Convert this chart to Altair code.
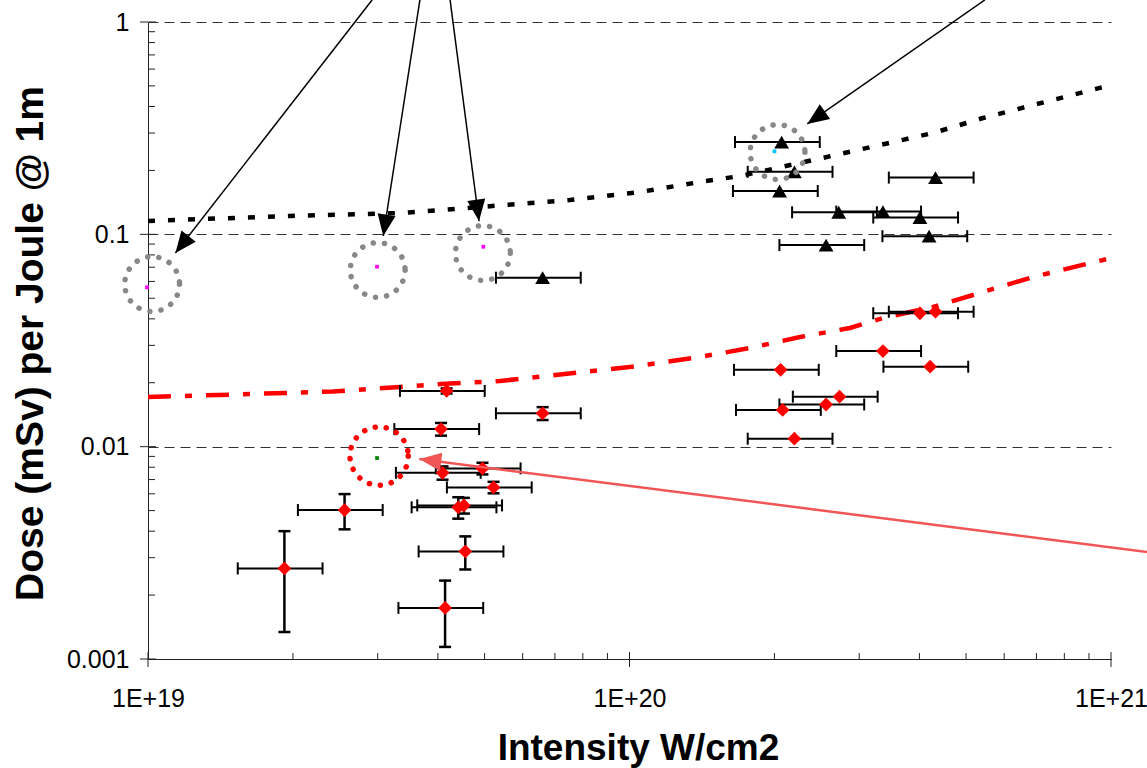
import math
import altair as alt
import pandas as pd

FONT = "Liberation Sans"
W, H = 963, 637
X_DOMAIN = [1e19, 1e21]
Y_DOMAIN = [0.001, 1]
X_REL_ERR = 0.20  # horizontal error bars are +/-20 % of the intensity

# Black triangles (upper dose series)
tri_x = [2.07e20, 2.20e20, 2.05e20, 2.72e20, 3.36e20, 4.01e20, 4.32e20, 4.19e20, 2.56e20, 6.60e19]
tri_y = [0.272, 0.197, 0.160, 0.127, 0.128, 0.120, 0.185, 0.098, 0.089, 0.0625]

# Red diamonds (lower dose series) and their vertical errors (0 = none drawn)
dia_x = [4.01e20, 4.32e20, 3.36e20, 4.21e20, 2.06e20, 2.73e20, 2.56e20, 2.08e20, 2.20e20,
         4.17e19, 6.60e19, 4.06e19, 4.95e19, 4.09e19, 5.22e19, 2.56e19, 4.41e19, 4.53e19,
         4.56e19, 1.92e19, 4.14e19]
dia_y = [0.0425, 0.0432, 0.0282, 0.0238, 0.0230, 0.0172, 0.0158, 0.0149, 0.0109,
         0.0183, 0.01435, 0.0121, 0.0079, 0.00753, 0.00643, 0.00503, 0.00518, 0.00529,
         0.00321, 0.00267, 0.00174]
dia_yerr = [0, 0, 0, 0, 0, 0, 0, 0, 0,
            0.0005, 0.0010, 0.00083, 0.0005, 0.00054, 0.0004, 0.00095, 0.0006, 0.00045,
            0.00057, 0.00133, 0.0006]

# Fitted trend curves
fit_black_x = [1e19, 1.97e19, 3.34e19, 4.89e19, 7.52e19, 1.05e20, 1.40e20, 1.70e20,
               2.41e20, 3.31e20, 4.27e20, 5.42e20, 6.89e20, 1e21]
fit_black_y = [0.1156, 0.1220, 0.1260, 0.1345, 0.1451, 0.1582, 0.1764, 0.1883,
               0.2239, 0.2634, 0.3001, 0.3530, 0.4064, 0.5049]
fit_red_x = [1e19, 1.63e19, 2.42e19, 3.34e19, 4.24e19, 5.38e19, 8.01e19, 1.0e20, 1.40e20,
             1.78e20, 2.26e20, 2.87e20, 3.36e20, 4.27e20, 5.42e20, 6.89e20, 1e21]
fit_red_y = [0.01714, 0.0177, 0.01819, 0.0191, 0.01984, 0.02038, 0.02247, 0.02372, 0.02645,
             0.02915, 0.03284, 0.03621, 0.04036, 0.04547, 0.05351, 0.06295, 0.07736]

# Highlighted measurements: dotted rings and their centre points
ring_x = [1.02e19, 3.00e19, 4.96e19, 2.03e20]
ring_y = [0.0583, 0.0679, 0.0816, 0.244]
ring_red_x = [3.02e19]
ring_red_y = [0.00903]
dot_x = [0.995e19, 2.99e19, 4.97e19, 2.00e20, 2.99e19]
dot_y = [0.0563, 0.0704, 0.0874, 0.246, 0.00884]
dot_color = ["#FF00FF", "#FF00FF", "#FF00FF", "#00C8FF", "#008000"]

# Annotation arrows (tail -> tip)
arrow_x0 = [2.92e19, 3.67e19, 4.24e19, 5.47e20]
arrow_y0 = [1.27, 1.27, 1.27, 1.27]
arrow_x1 = [1.14e19, 3.08e19, 4.87e19, 2.34e20]
arrow_y1 = [0.0816, 0.0982, 0.1155, 0.331]
red_arrow_x0 = [1.19e21]
red_arrow_y0 = [0.00319]
red_arrow_x1 = [3.66e19]
red_arrow_y1 = [0.00874]

# Axis tick positions
x_major = [1e19, 1e20, 1e21]
x_minor = [m * 10 ** e for e in (19, 20) for m in range(2, 10)]
y_major = [0.001, 0.01, 0.1, 1]
y_minor = [m * 10.0 ** e for e in (-3, -2, -1) for m in range(2, 10)]

xs = alt.Scale(type="log", domain=X_DOMAIN, nice=False)
ys = alt.Scale(type="log", domain=Y_DOMAIN, nice=False)

x_axis = alt.Axis(
    values=x_major, labelExpr="'1E+' + round(log(datum.value) / LN10)",
    labelFlush=False, labelOverlap=False, labelFont=FONT, labelFontSize=25,
    labelColor="black", labelPadding=27, ticks=False, tickSize=0,
    domainColor="#222", domainWidth=1, grid=False,
    title="Intensity W/cm2", titleFont=FONT, titleFontSize=37, titleFontWeight="bold",
    titleColor="black", titleX=490, titleY=100, titleBaseline="alphabetic", titleAlign="center",
)
y_axis = alt.Axis(
    values=y_major, format="~g", labelOverlap=False, labelFont=FONT, labelFontSize=25,
    labelColor="black", labelPadding=19, ticks=False, tickSize=0,
    domainColor="#222", domainWidth=1,
    grid=True, gridDash=[10, 6], gridColor="#333", gridWidth=1,
    title="Dose (mSv)  per Joule @ 1m", titleFont=FONT, titleFontSize=39, titleFontWeight="bold",
    titleColor="black", titleX=-106, titleY=321, titleAngle=270,
    titleBaseline="alphabetic", titleAlign="center",
)


def X(field="x"):
    return alt.X(f"{field}:Q", scale=xs, axis=x_axis)


def Y(field="y"):
    return alt.Y(f"{field}:Q", scale=ys, axis=y_axis)


def head_angle(x0, y0, x1, y1):
    px_per_dec_x = W / (math.log10(X_DOMAIN[1]) - math.log10(X_DOMAIN[0]))
    px_per_dec_y = H / (math.log10(Y_DOMAIN[1]) - math.log10(Y_DOMAIN[0]))
    dx = (math.log10(x1) - math.log10(x0)) * px_per_dec_x
    dy = -(math.log10(y1) - math.log10(y0)) * px_per_dec_y
    return math.degrees(math.atan2(dx, -dy)) % 360


fit_black = pd.DataFrame({"x": fit_black_x, "y": fit_black_y})
fit_red = pd.DataFrame({"x": fit_red_x, "y": fit_red_y})

layers = []

layers.append(
    alt.Chart(fit_black).mark_line(color="black", strokeWidth=4.5, strokeDash=[7, 13]).encode(
        x=X(), y=Y())
)
layers.append(
    alt.Chart(fit_red).mark_line(color="#FF0000", strokeWidth=4.5, strokeDash=[23, 14, 7, 14]).encode(
        x=X(), y=Y())
)

# Axis tick marks (minor ticks point inward, major ticks cross the axis)
layers.append(alt.Chart(pd.DataFrame({"x": x_minor})).mark_rule(color="#222", strokeWidth=1).encode(
    x=X(), y=alt.value(H - 6), y2=alt.value(H)))
layers.append(alt.Chart(pd.DataFrame({"x": x_major})).mark_rule(color="#222", strokeWidth=1).encode(
    x=X(), y=alt.value(H - 7), y2=alt.value(H + 8)))
layers.append(alt.Chart(pd.DataFrame({"y": y_minor})).mark_rule(color="#222", strokeWidth=1).encode(
    y=Y(), x=alt.value(0), x2=alt.value(7)))
layers.append(alt.Chart(pd.DataFrame({"y": y_major})).mark_rule(color="#222", strokeWidth=1).encode(
    y=Y(), x=alt.value(-8), x2=alt.value(8)))

# Error bars
pts = pd.concat([
    pd.DataFrame({"x": tri_x, "y": tri_y, "yerr": 0.0}),
    pd.DataFrame({"x": dia_x, "y": dia_y, "yerr": dia_yerr}),
], ignore_index=True)
pts["xlo"] = pts["x"] * (1 - X_REL_ERR)
pts["xhi"] = pts["x"] * (1 + X_REL_ERR)
caps_x = pd.concat([
    pd.DataFrame({"x": pts["xlo"], "y": pts["y"]}),
    pd.DataFrame({"x": pts["xhi"], "y": pts["y"]}),
], ignore_index=True)
vpts = pts[pts["yerr"] > 0].copy()
vpts["ylo"] = vpts["y"] - vpts["yerr"]
vpts["yhi"] = vpts["y"] + vpts["yerr"]
caps_y = pd.concat([
    pd.DataFrame({"x": vpts["x"], "y": vpts["ylo"]}),
    pd.DataFrame({"x": vpts["x"], "y": vpts["yhi"]}),
], ignore_index=True)

layers.append(alt.Chart(pts).mark_rule(color="black", strokeWidth=2).encode(
    x=X("xlo"), x2="xhi:Q", y=Y()))
layers.append(alt.Chart(caps_x).mark_tick(color="black", orient="vertical", size=12, thickness=2, opacity=1).encode(
    x=X(), y=Y()))
layers.append(alt.Chart(vpts).mark_rule(color="black", strokeWidth=2.5).encode(
    x=X(), y=Y("ylo"), y2="yhi:Q"))
layers.append(alt.Chart(caps_y).mark_tick(color="black", orient="horizontal", size=12, thickness=2.5, opacity=1).encode(
    x=X(), y=Y()))

# Markers
layers.append(alt.Chart(pd.DataFrame({"x": tri_x, "y": tri_y})).mark_point(
    shape="triangle-up", filled=True, size=220, color="black", opacity=1, strokeWidth=0).encode(x=X(), y=Y()))
layers.append(alt.Chart(pd.DataFrame({"x": dia_x, "y": dia_y})).mark_point(
    shape="diamond", filled=True, size=190, color="#FF0000", opacity=1, strokeWidth=0).encode(x=X(), y=Y()))

# Dotted rings around highlighted measurements
layers.append(alt.Chart(pd.DataFrame({"x": ring_x, "y": ring_y})).mark_point(
    shape="circle", filled=False, size=3000, color="#888888", opacity=1,
    strokeWidth=5.5, strokeDash=[0.1, 11.2], strokeCap="round").encode(x=X(), y=Y()))
layers.append(alt.Chart(pd.DataFrame({"x": ring_red_x, "y": ring_red_y})).mark_point(
    shape="circle", filled=False, size=3400, color="#FF0000", opacity=1,
    strokeWidth=5.5, strokeDash=[0.1, 11], strokeCap="round").encode(x=X(), y=Y()))
layers.append(alt.Chart(pd.DataFrame({"x": dot_x, "y": dot_y, "c": dot_color})).mark_point(
    shape="square", filled=True, size=14, opacity=1, strokeWidth=0).encode(
    x=X(), y=Y(), color=alt.Color("c:N", scale=None)))

# Arrows
arrows = pd.DataFrame({"x0": arrow_x0, "y0": arrow_y0, "x1": arrow_x1, "y1": arrow_y1})
arrows["ang"] = [head_angle(*r) for r in zip(arrow_x0, arrow_y0, arrow_x1, arrow_y1)]
red_arrows = pd.DataFrame({"x0": red_arrow_x0, "y0": red_arrow_y0, "x1": red_arrow_x1, "y1": red_arrow_y1})
red_arrows["ang"] = [head_angle(*r) for r in zip(red_arrow_x0, red_arrow_y0, red_arrow_x1, red_arrow_y1)]

HEAD = "M0,0L-0.42,1L0.42,1Z"

layers.append(alt.Chart(arrows).mark_rule(color="black", strokeWidth=1.5).encode(
    x=X("x0"), y=Y("y0"), x2="x1:Q", y2="y1:Q"))
layers.append(alt.Chart(arrows).mark_point(
    shape=HEAD, filled=True, size=1850, color="black", opacity=1, strokeWidth=0).encode(
    x=X("x1"), y=Y("y1"), angle=alt.Angle("ang:Q", scale=None)))
layers.append(alt.Chart(red_arrows).mark_rule(color="#F25555", strokeWidth=2.5).encode(
    x=X("x0"), y=Y("y0"), x2="x1:Q", y2="y1:Q"))
layers.append(alt.Chart(red_arrows).mark_point(
    shape=HEAD, filled=True, size=1936, color="#F25555", opacity=1, strokeWidth=0).encode(
    x=X("x1"), y=Y("y1"), angle=alt.Angle("ang:Q", scale=None)))

chart = alt.layer(*layers).properties(
    width=W, height=H,
    padding={"left": 148, "top": 22, "right": 36, "bottom": 109},
    autosize=alt.AutoSizeParams(type="none"),
    background="white",
).configure_view(stroke=None)

chart.save("out.html", embed_options={"renderer": "svg", "actions": False})
